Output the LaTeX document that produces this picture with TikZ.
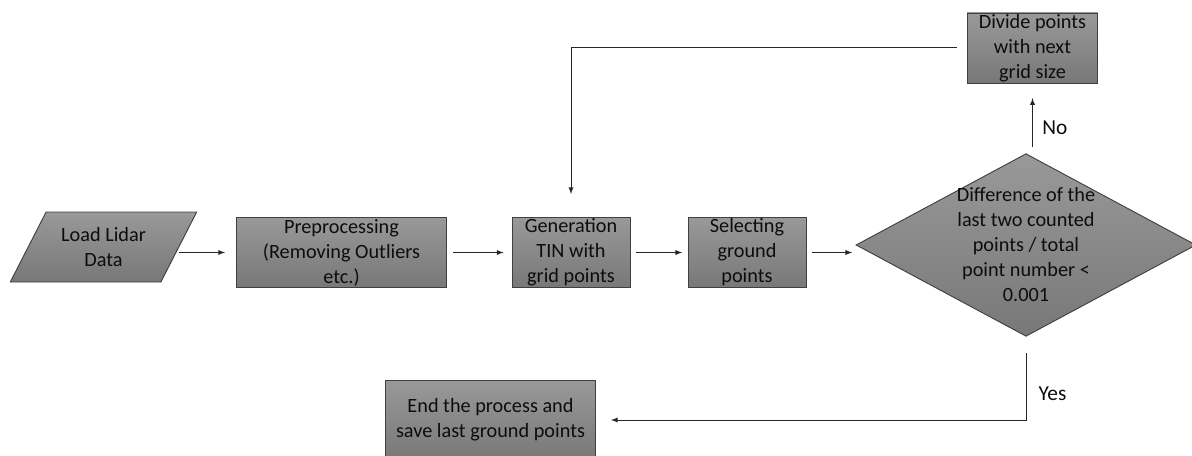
\documentclass[tikz,border=0pt]{standalone}
\usepackage{fontspec}
\setmainfont{Carlito}
\usetikzlibrary{shapes.geometric, arrows, calc}
\definecolor{boxtop}{gray}{0.60}
\definecolor{boxbot}{gray}{0.47}
\definecolor{boxline}{gray}{0.25}

\begin{document}
\begin{tikzpicture}[x=0.75pt, y=-0.75pt,
        font=\fontsize{15.2}{18.75}\selectfont,
        box/.style={draw=boxline, line width=0.7pt, top color=boxtop, bottom color=boxbot,
                    align=center, inner sep=0pt, text=black!95},
        arr/.style={-latex, line width=0.75pt, black!85},
        lbl/.style={font=\fontsize{16}{19}\selectfont, text=black!95}]
        \useasboundingbox (0,0) rectangle (1192,456);

        \node[box, trapezium, trapezium left angle=56, trapezium right angle=124,
              trapezium stretches=true, minimum width=140pt, minimum height=52.5pt] (load) at (103.5,247) {Load Lidar\\Data};
        \node[box, minimum width=158pt, minimum height=53pt] (pre) at (341.5,252.5) {Preprocessing\\(Removing Outliers\\etc.)};
        \node[box, minimum width=88.5pt, minimum height=53pt] (gen) at (571,252.5) {Generation\\TIN with\\grid points};
        \node[box, minimum width=88.5pt, minimum height=53pt] (sel) at (747,252.5) {Selecting\\ground\\points};
        \node[box, diamond, aspect=1.86, minimum width=255pt, minimum height=137pt,
              label={[align=center, text=black!95]center:Difference of the\\last two counted\\points / total\\point number <\\0.001}] (dec) at (1026,245) {};
        \node[box, minimum width=98pt, minimum height=52.5pt] (div) at (1032.5,48) {Divide points\\with next\\grid size};
        \node[box, minimum width=158pt, minimum height=60pt] (end) at (490.5,420) {End the process and\\save last ground points};

        \draw[arr, shorten >=8pt] (load.east |- pre.west) -- (pre.west);
        \draw[arr, shorten <=4.5pt, shorten >=6pt] (pre) -- (gen);
        \draw[arr, shorten <=4.5pt, shorten >=4pt] (gen) -- (sel);
        \draw[arr, shorten <=4.5pt, shorten >=2.5pt] (sel.east) -- (sel.east -| dec.west);
        \draw[arr, shorten <=5pt, shorten >=11pt] (dec.north -| div.south) -- node[lbl, right, pos=0.37, inner sep=7pt]{No} (div.south);
        \draw[arr, shorten <=7.5pt, shorten >=17pt] (div.west) -| (gen.north);
        \draw[arr, shorten <=12pt, shorten >=11pt] (dec.south) |- node[lbl, right, pos=0.34, inner sep=9pt]{Yes} (end.east);
    \end{tikzpicture}
\end{document}
